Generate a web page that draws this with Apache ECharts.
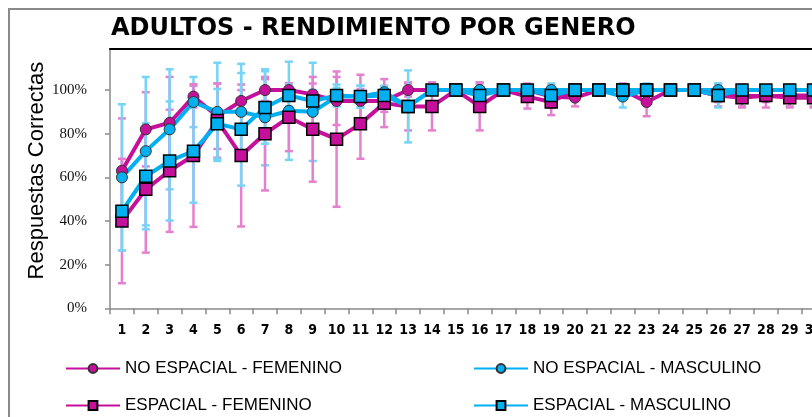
<!DOCTYPE html>
<html>
<head>
<meta charset="utf-8">
<script src="https://cdn.jsdelivr.net/npm/echarts@6/dist/echarts.min.js"></script>
<style>
html, body { margin: 0; padding: 0; background: #fff; overflow: hidden; }
#chart { width: 860px; height: 440px; }
</style>
</head>
<body>
<div id="chart"></div>
<script>
const categories = ['1', '2', '3', '4', '5', '6', '7', '8', '9', '10', '11', '12', '13', '14', '15',
  '16', '17', '18', '19', '20', '21', '22', '23', '24', '25', '26', '27', '28', '29', '30'];
const yTicks = [0, 0.2, 0.4, 0.6, 0.8, 1];

const seriesNames = ['NO ESPACIAL - FEMENINO', 'NO ESPACIAL - MASCULINO', 'ESPACIAL - FEMENINO', 'ESPACIAL - MASCULINO'];

// proportion of correct answers per item
const noEspFem = [0.63, 0.82, 0.85, 0.97, 0.88, 0.95, 1.0, 1.0, 0.98, 0.95, 0.95, 0.95, 1.0, 1.0, 1.0,
  1.0, 1.0, 1.0, 0.97, 0.965, 1.0, 1.0, 0.945, 1.0, 1.0, 0.975, 0.975, 0.97, 0.975, 0.975];
const noEspMasc = [0.60, 0.72, 0.82, 0.945, 0.90, 0.90, 0.875, 0.905, 0.90, 0.97, 0.97, 0.99, 0.925, 1.0, 1.0,
  1.0, 1.0, 1.0, 1.0, 1.0, 1.0, 0.97, 1.0, 1.0, 1.0, 1.0, 1.0, 1.0, 1.0, 1.0];
const espFem = [0.40, 0.545, 0.63, 0.70, 0.86, 0.70, 0.80, 0.875, 0.82, 0.775, 0.845, 0.94, 0.925, 0.925, 1.0,
  0.925, 1.0, 0.97, 0.945, 1.0, 1.0, 1.0, 1.0, 1.0, 1.0, 0.975, 0.965, 0.975, 0.965, 0.965];
const espMasc = [0.445, 0.605, 0.675, 0.72, 0.845, 0.82, 0.92, 0.975, 0.95, 0.975, 0.97, 0.975, 0.925, 1.0, 1.0,
  0.975, 1.0, 1.0, 0.975, 1.0, 1.0, 1.0, 1.0, 1.0, 1.0, 0.975, 1.0, 1.0, 1.0, 1.0];

// error bar half widths
const noEspFemErr = [0.24, 0.17, 0.21, 0.05, 0.15, 0.05, 0.05, 0.03, 0.05, 0.11, 0.12, 0.05, 0.03, 0, 0,
  0.03, 0, 0.03, 0.05, 0.04, 0, 0.03, 0.065, 0, 0, 0.05, 0.05, 0.05, 0.05, 0.05];
const noEspMascErr = [0.335, 0.34, 0.275, 0.115, 0.225, 0.22, 0.22, 0.225, 0.225, 0.04, 0.05, 0.03, 0, 0, 0,
  0.035, 0, 0, 0.03, 0, 0, 0.05, 0.03, 0, 0, 0.03, 0, 0, 0, 0];
const espFemErr = [0.285, 0.29, 0.28, 0.327, 0.17, 0.325, 0.26, 0.155, 0.24, 0.31, 0.16, 0.11, 0.11, 0.11, 0,
  0.11, 0, 0.055, 0.06, 0, 0, 0, 0, 0, 0, 0.03, 0.045, 0.03, 0.045, 0.045];
const espMascErr = [0.18, 0.243, 0.273, 0.236, 0.16, 0.258, 0.166, 0.05, 0.05, 0.05, 0.05, 0.04, 0.165, 0, 0,
  0.03, 0, 0, 0.03, 0, 0, 0, 0, 0, 0, 0.055, 0, 0, 0, 0];

const MAGENTA = '#C6109C';
const CYAN = '#00B0F0';
const PINK_BAR = 'rgb(228,128,206)';
const CYAN_BAR = 'rgb(118,212,246)';
const NARROW = '"Liberation Sans Narrow", "DejaVu Sans Condensed", "Liberation Sans", sans-serif';

const chart = echarts.init(document.getElementById('chart'));

const errorBars = (values, errs, color) => ({
  type: 'custom',
  z: 1,
  silent: true,
  animation: false,
  data: values.map((v, i) => [i, v, errs[i]]),
  encode: { x: 0, y: 1 },
  renderItem: (params, api) => {
    const e = api.value(2);
    if (!e) return null;
    const i = api.value(0);
    const v = api.value(1);
    const top = api.coord([i, v + e]);
    const bot = api.coord([i, v - e]);
    const w = 4;
    const style = { stroke: color, lineWidth: 2.5, blend: 'multiply' };
    return {
      type: 'group',
      children: [
        { type: 'line', shape: { x1: top[0], y1: top[1], x2: bot[0], y2: bot[1] }, style },
        { type: 'line', shape: { x1: top[0] - w, y1: top[1], x2: top[0] + w, y2: top[1] }, style },
        { type: 'line', shape: { x1: bot[0] - w, y1: bot[1], x2: bot[0] + w, y2: bot[1] }, style }
      ]
    };
  }
});

const lineSeries = (name, values, color, symbol, size, border, borderWidth) => ({
  name,
  type: 'line',
  data: values,
  z: 3,
  animation: false,
  symbol,
  symbolSize: size,
  showAllSymbol: true,
  lineStyle: { color, width: 4 },
  itemStyle: { color, borderColor: border, borderWidth }
});

const legendText = { color: '#000', fontSize: 17, fontFamily: '"Liberation Sans", sans-serif' };

const legendBase = {
  orient: 'vertical',
  top: 355,
  itemWidth: 54,
  itemHeight: 11,
  itemGap: 20,
  textStyle: legendText,
  lineStyle: { width: 2 }
};

const option = {
  backgroundColor: '#fff',
  title: {
    text: 'ADULTOS - RENDIMIENTO POR GENERO',
    left: 106,
    top: 12,
    textStyle: { color: '#000', fontSize: 24, fontWeight: 'bold', fontFamily: '"DejaVu Sans", sans-serif' }
  },
  graphic: [
    {
      type: 'rect',
      shape: { x: 9, y: 9, width: 900, height: 500 },
      style: { fill: 'none', stroke: '#8a8a8a', lineWidth: 2 },
      silent: true
    }
  ],
  legend: [
    Object.assign({}, legendBase, { data: [seriesNames[0], seriesNames[2]], left: 60 }),
    Object.assign({}, legendBase, { data: [seriesNames[1], seriesNames[3]], left: 468 })
  ],
  grid: { left: 110, top: 49, width: 715.5, height: 259.3, containLabel: false },
  xAxis: [
    {
      type: 'category',
      data: categories,
      boundaryGap: true,
      axisLine: { lineStyle: { color: '#8a8a8a', width: 1.5 } },
      axisTick: { show: true, length: 6, lineStyle: { color: '#8a8a8a', width: 1.5 } },
      axisLabel: { color: '#000', fontSize: 14, fontWeight: 'bold', fontFamily: NARROW, margin: 15, interval: 0 }
    },
    {
      type: 'category',
      position: 'top',
      data: categories,
      axisLine: { lineStyle: { color: '#000', width: 2 } },
      axisTick: { show: false },
      axisLabel: { show: false }
    }
  ],
  yAxis: {
    type: 'value',
    min: 0,
    max: 1.188,
    name: 'Respuestas Correctas',
    nameLocation: 'middle',
    nameGap: 62,
    nameMoveOverlap: false,
    nameTextStyle: { color: '#000', fontSize: 22, fontFamily: '"Liberation Sans", sans-serif', padding: [0, 0, 0, 16] },
    splitLine: { show: false },
    axisLine: { show: true, lineStyle: { color: '#8a8a8a', width: 1.5 } },
    axisTick: { show: true, length: 5, customValues: yTicks, lineStyle: { color: '#8a8a8a', width: 1.5 } },
    axisLabel: {
      customValues: yTicks,
      color: '#111',
      fontSize: 15,
      fontFamily: '"Liberation Serif", serif',
      margin: 23,
      formatter: (v) => Math.round(v * 100) + '%'
    }
  },
  series: [
    errorBars(noEspFem, noEspFemErr, PINK_BAR),
    errorBars(noEspMasc, noEspMascErr, CYAN_BAR),
    errorBars(espFem, espFemErr, PINK_BAR),
    errorBars(espMasc, espMascErr, CYAN_BAR),
    lineSeries(seriesNames[0], noEspFem, MAGENTA, 'circle', 11, '#333', 1),
    lineSeries(seriesNames[1], noEspMasc, CYAN, 'circle', 11, '#333', 1),
    lineSeries(seriesNames[2], espFem, MAGENTA, 'rect', 12, '#000', 1.5),
    lineSeries(seriesNames[3], espMasc, CYAN, 'rect', 12, '#000', 1.5)
  ]
};

chart.setOption(option);
</script>
</body>
</html>
